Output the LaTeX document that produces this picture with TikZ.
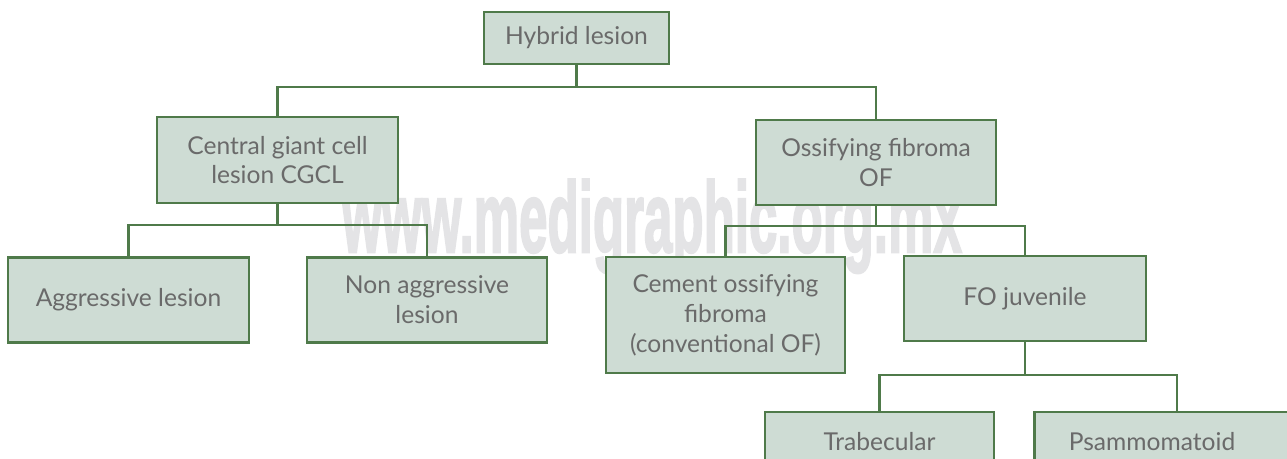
\documentclass[tikz,border=0pt]{standalone}
\usepackage{fontspec}
\setmainfont{Lato}
\newfontfamily\markfont[BoldFeatures={FakeBold=2.5}]{Liberation Sans}
\usepackage{tikz}
\usetikzlibrary{positioning}
\definecolor{boxgreen}{HTML}{4F7A4A}
\definecolor{boxfill}{HTML}{CEDCD4}
\definecolor{boxtext}{HTML}{6A6A6A}
\definecolor{markgray}{HTML}{E4E4E6}
\tikzstyle{box}=[draw=boxgreen,fill=boxfill,line width=1.2pt,text=boxtext,align=center,inner sep=2pt,font=\fontsize{14}{17}\selectfont]
\tikzstyle{link}=[draw=boxgreen,line width=1.2pt]

\begin{document}
\begin{tikzpicture}[x=0.02cm,y=-0.02cm]

      \useasboundingbox (0,0) rectangle (1287,458);
      \clip (0,0) rectangle (1287,458);
      \fill[white] (0,0) rectangle (1287,458);

      \node[anchor=base,text=markgray,xscale=0.51,font=\markfont\bfseries\fontsize{57}{60}\selectfont] (watermark) at (652,252) {www.medigraphic.org.mx};

      \node[box, minimum width=3.7cm, minimum height=1.04cm] (hybrid) at (576.5,38) {Hybrid lesion};

      \node[box, minimum width=4.82cm, minimum height=1.72cm] (cgcl) at (277.5,160) {Central giant cell\\lesion CGCL};
      \node[box, minimum width=4.8cm, minimum height=1.7cm] (of) at (876,162.5) {Ossifying fibroma\\OF};

      \node[box, minimum width=4.82cm, minimum height=1.7cm] (aggressive) at (128.5,300) {Aggressive lesion};
      \node[box, minimum width=4.8cm, minimum height=1.7cm] (non_aggressive) at (427,300) {Non aggressive\\lesion};

      \node[box, minimum width=4.78cm, minimum height=2.32cm] (cement) at (725.5,315) {Cement ossifying\\fibroma\\(conventional OF)};
      \node[box, minimum width=4.84cm, minimum height=1.7cm] (fo_juvenile) at (1025,298.5) {FO juvenile};

      \node[box, minimum width=4.58cm, minimum height=1.2cm] (trabecular) at (879.5,442) {Trabecular};
      \node[box, minimum width=5.7cm, minimum height=1.2cm] (psammomatoid) at (1177,442) {Psammomatoid\hspace*{1cm}};

      \draw[link] (hybrid.south) -- ++(0,22) -| (cgcl.north);
      \draw[link] (hybrid.south) -- ++(0,22) -| (of.north);

      \draw[link] (cgcl.south) -- ++(0,21) -| (aggressive.north);
      \draw[link] (cgcl.south) -- ++(0,21) -| (non_aggressive.north);

      \draw[link] (of.south) -- ++(0,20) -| (cement.north);
      \draw[link] (of.south) -- ++(0,20) -| (fo_juvenile.north);

      \draw[link] (fo_juvenile.south) -- ++(0,33) -| (trabecular.north);
      \draw[link] (fo_juvenile.south) -- ++(0,33) -| (psammomatoid.north);

    \end{tikzpicture}
\end{document}
